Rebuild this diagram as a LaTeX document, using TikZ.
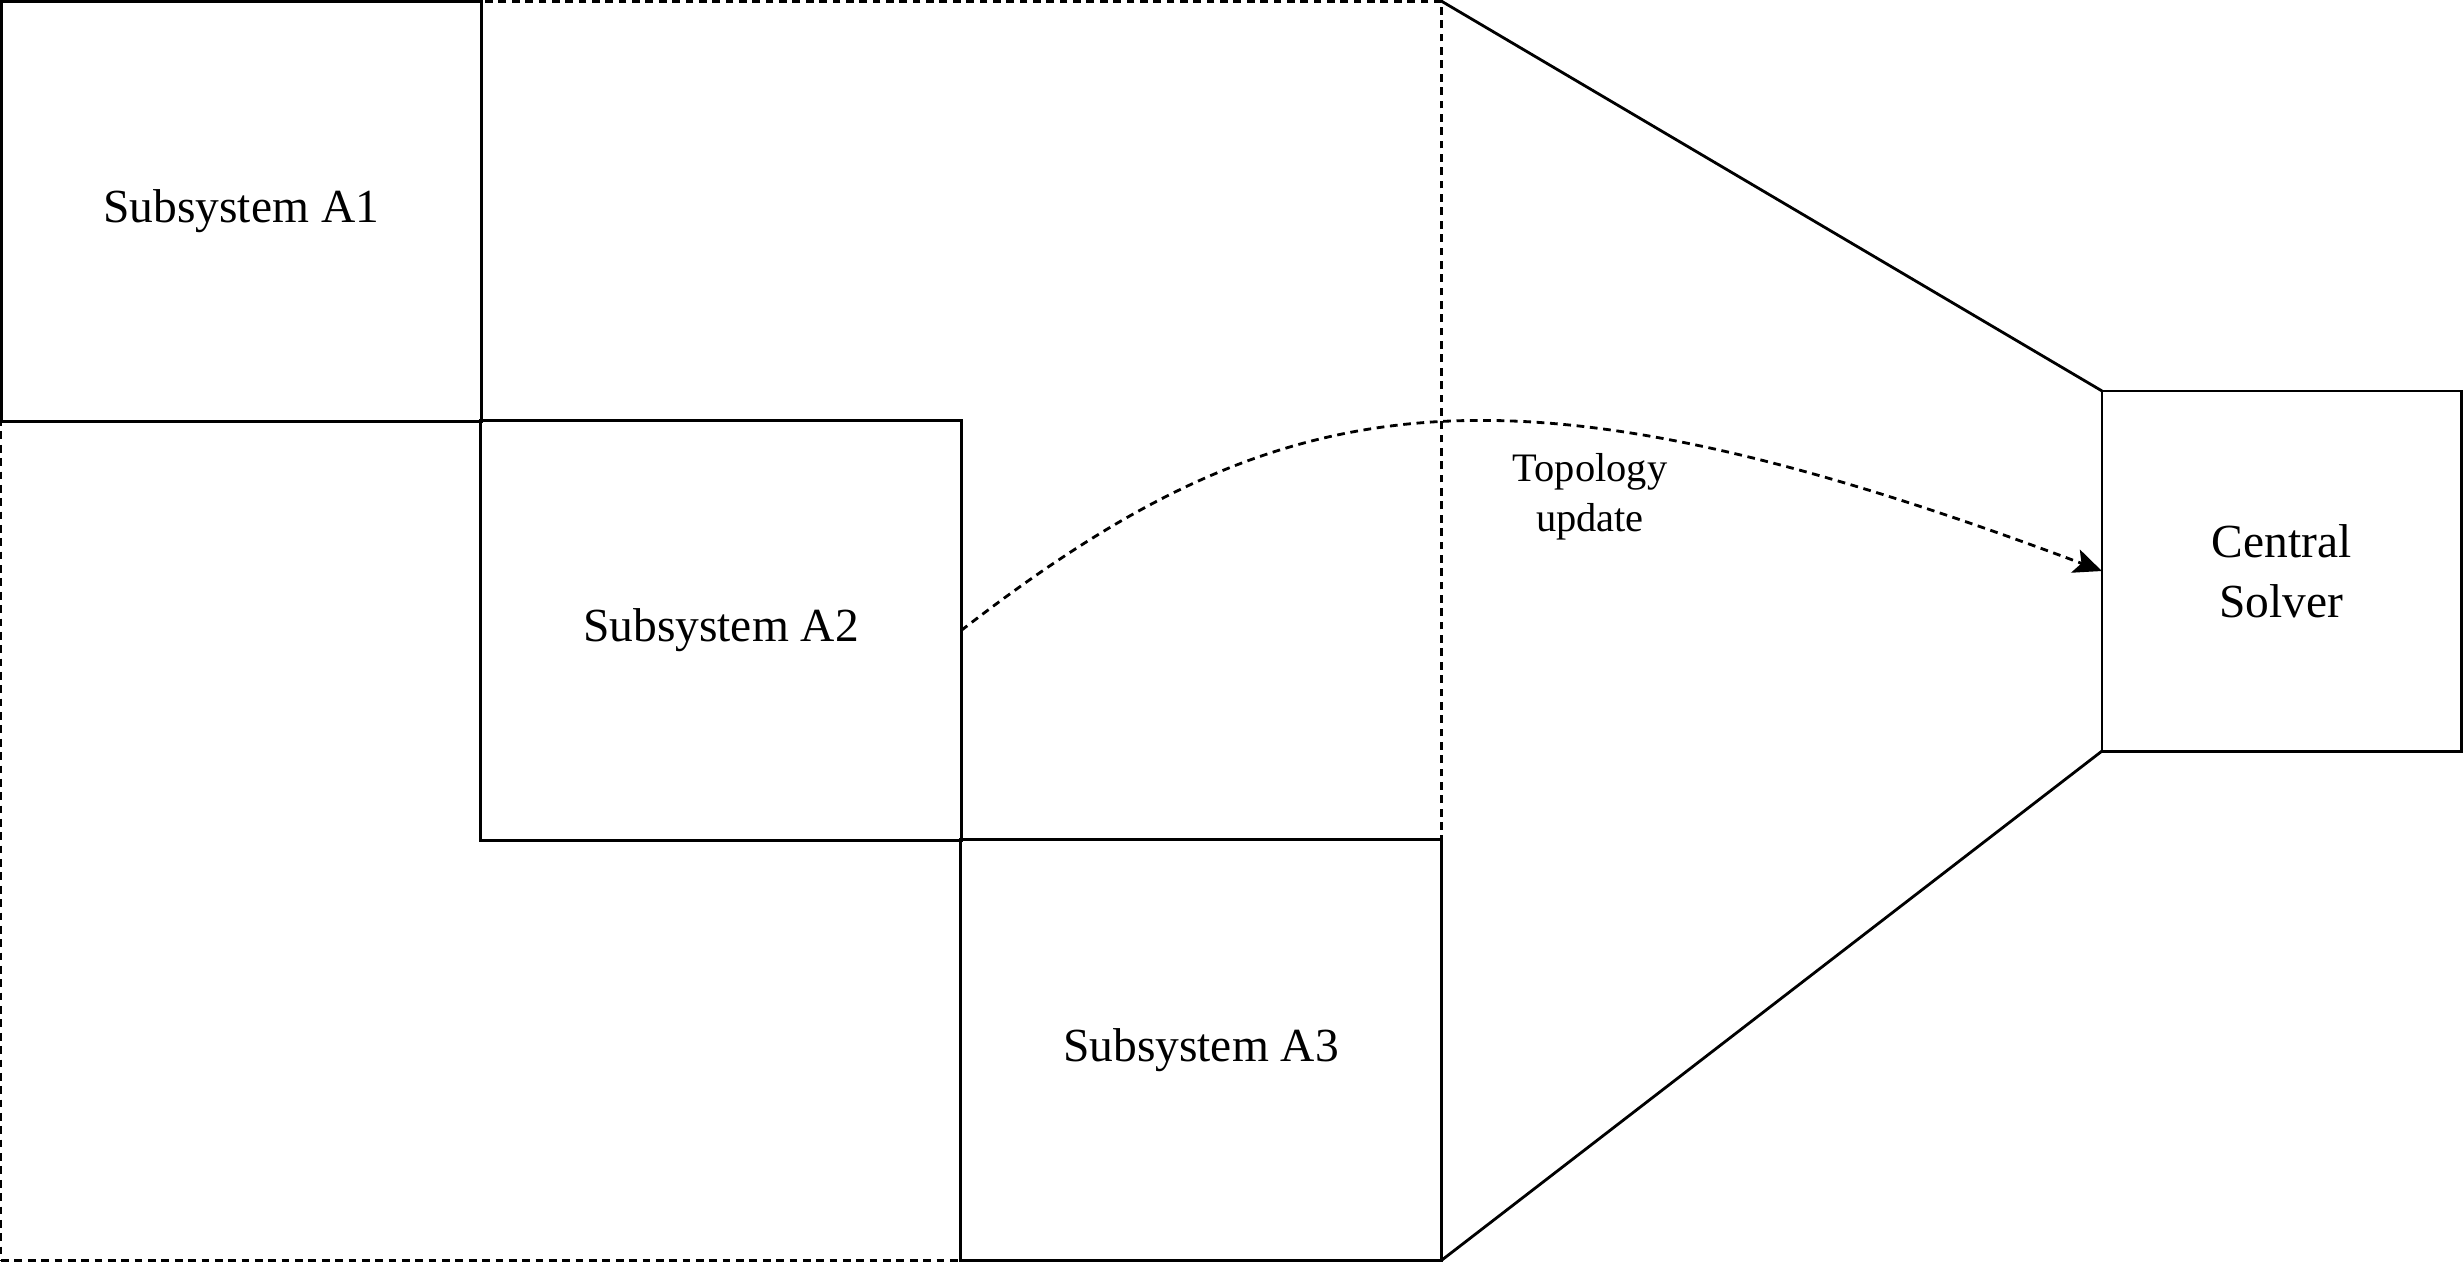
\documentclass[tikz,border=0pt]{standalone}
\usepackage{fontspec}
\setmainfont{Liberation Serif}
\usetikzlibrary{arrows.meta}

\tikzset{
  subsys/.style={draw,line width=0.8pt,inner sep=0pt,outer sep=0pt,align=center,
    font=\fontsize{13.5}{17}\selectfont},
  frame/.style={draw,dashed,dash pattern=on 2.2pt off 1.6pt,line width=0.8pt,inner sep=0pt,outer sep=0pt},
}

\begin{document}
\begin{tikzpicture}[x=0.01cm,y=-0.01cm]
\useasboundingbox (0,0) rectangle (2463,1266);
\node (outer) at (721.25,630.75) [frame,minimum width=14.395cm,minimum height=12.585cm] {};
\node (a1) at (241.25,211.25) [subsys,minimum width=4.795cm,minimum height=4.195cm] {Subsystem A1};
\node (a2) at (721,630.5) [subsys,minimum width=4.8cm,minimum height=4.19cm] {Subsystem A2};
\node (a3) at (1201,1050) [subsys,minimum width=4.8cm,minimum height=4.2cm] {Subsystem A3};
\node (solver) at (2281.5,571) [subsys,minimum width=3.59cm,minimum height=3.6cm] {Central\\ Solver};
\node (lbl) at (1590,497) [align=center,font=\fontsize{11.5}{14.2}\selectfont] {Topology\\ update};
\draw [line width=0.8pt] (outer.north east) -- (solver.north west);
\draw [line width=0.8pt] (outer.south east) -- (solver.south west);
\draw [-{Stealth[length=8pt,width=7pt,inset=1.8pt]},frame] (a2.east) .. controls (1280,384) and (1500,345) .. (solver.west);
\end{tikzpicture}
\end{document}
